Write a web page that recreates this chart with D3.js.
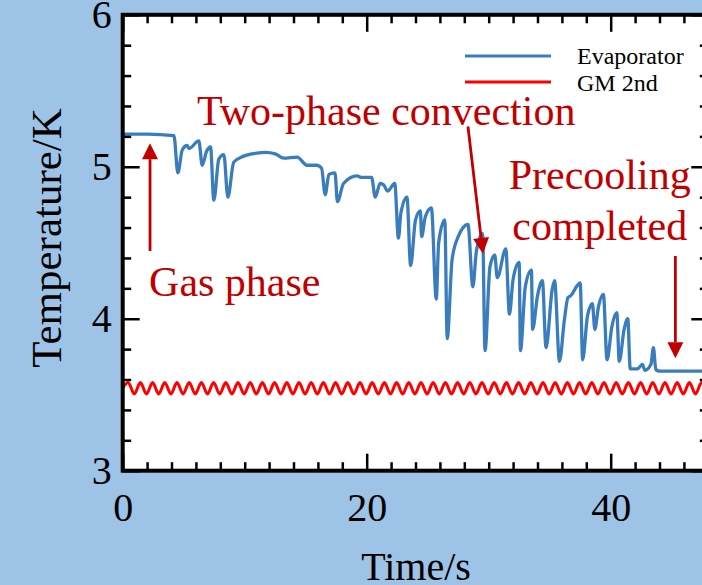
<!DOCTYPE html>
<html>
<head>
<meta charset="utf-8">
<script src="https://d3js.org/d3.v7.min.js"></script>
<style>
body { margin: 0; background: #9dc3e6; }
svg { display: block; }
text { font-family: "Liberation Serif", "Times New Roman", serif; }
</style>
</head>
<body>
<svg id="chart" width="702" height="585"></svg>
<script>
// evaporator temperature (s, K)
var evapTime = [0, 2.0, 4.2, 4.52, 4.88, 5.29, 5.43, 6.24, 6.52, 6.87, 7.2, 7.47, 7.88, 8.29, 8.62, 9.1, 9.92, 11.0,
    11.7, 12.5, 13.2, 14.3, 15.1, 15.9, 16.3, 16.6, 16.9, 17.4, 17.6, 18.1, 19.2, 19.6, 20.4, 20.7, 21.1, 21.4, 21.7,
    22.3, 22.6, 22.8, 23.3, 23.6, 24.0, 24.4, 24.5, 24.8, 25.3, 25.7, 25.9, 26.4, 26.6, 27.0, 27.5, 28.3, 28.7, 29.0,
    29.5, 29.7, 30.1, 30.5, 30.7, 31.4, 31.7, 32.0, 32.5, 32.6, 33.0, 33.5, 33.6, 34.0, 34.4, 34.7, 35.2, 35.4, 35.8,
    36.2, 36.5, 36.7, 37.5, 37.7, 38.1, 38.5, 38.7, 39.0, 39.4, 39.7, 40.1, 40.5, 40.7, 41.1, 41.4, 41.6, 42.2, 42.6,
    42.8, 43.3, 43.5, 43.7, 44.0, 48]
var evapTemp = [5.215, 5.215, 5.205, 4.96, 5.11, 5.14, 5.12, 5.17, 5.01, 5.10, 5.13, 4.78, 5.05, 5.08, 4.80, 5.03, 5.07, 5.09,
    5.095, 5.085, 5.057, 5.064, 5.01, 5.01, 4.99, 4.816, 4.95, 4.96, 4.77, 4.89, 4.94, 4.93, 4.93, 4.80, 4.89, 4.88, 4.84,
    4.89, 4.53, 4.695, 4.80, 4.35, 4.65, 4.71, 4.54, 4.67, 4.73, 4.13, 4.50, 4.65, 3.87, 4.39, 4.54, 4.62, 4.21, 4.45,
    4.56, 3.79, 4.34, 4.42, 4.27, 4.46, 4.03, 4.26, 4.37, 3.79, 4.21, 4.32, 3.93, 4.15, 4.25, 3.81, 4.19, 4.25, 3.72,
    3.99, 4.14, 4.15, 4.235, 3.73, 4.02, 4.10, 3.93, 4.08, 4.16, 3.73, 3.95, 4.04, 3.72, 3.93, 4.00, 3.67, 3.67, 3.70,
    3.66, 3.70, 3.81, 3.665, 3.655, 3.655]

// GM cooler 2nd stage (s, K), one peak and one trough per second
var gmTime = [0,
    0.45, 0.95, 1.45, 1.95, 2.45, 2.95, 3.45, 3.95, 4.45, 4.95, 5.45, 5.95,
    6.45, 6.95, 7.45, 7.95, 8.45, 8.95, 9.45, 9.95, 10.45, 10.95, 11.45, 11.95,
    12.45, 12.95, 13.45, 13.95, 14.45, 14.95, 15.45, 15.95, 16.45, 16.95, 17.45, 17.95,
    18.45, 18.95, 19.45, 19.95, 20.45, 20.95, 21.45, 21.95, 22.45, 22.95, 23.45, 23.95,
    24.45, 24.95, 25.45, 25.95, 26.45, 26.95, 27.45, 27.95, 28.45, 28.95, 29.45, 29.95,
    30.45, 30.95, 31.45, 31.95, 32.45, 32.95, 33.45, 33.95, 34.45, 34.95, 35.45, 35.95,
    36.45, 36.95, 37.45, 37.95, 38.45, 38.95, 39.45, 39.95, 40.45, 40.95, 41.45, 41.95,
    42.45, 42.95, 43.45, 43.95, 44.45, 44.95, 45.45, 45.95, 46.45, 46.95, 47.45, 47.95]
var gmTemp = [3.545,
    3.58, 3.505, 3.58, 3.505, 3.58, 3.505, 3.58, 3.505, 3.58, 3.505, 3.58, 3.505,
    3.58, 3.505, 3.58, 3.505, 3.58, 3.505, 3.58, 3.505, 3.58, 3.505, 3.58, 3.505,
    3.58, 3.505, 3.58, 3.505, 3.58, 3.505, 3.58, 3.505, 3.58, 3.505, 3.58, 3.505,
    3.58, 3.505, 3.58, 3.505, 3.58, 3.505, 3.58, 3.505, 3.58, 3.505, 3.58, 3.505,
    3.58, 3.505, 3.58, 3.505, 3.58, 3.505, 3.58, 3.505, 3.58, 3.505, 3.58, 3.505,
    3.58, 3.505, 3.58, 3.505, 3.58, 3.505, 3.58, 3.505, 3.58, 3.505, 3.58, 3.505,
    3.58, 3.505, 3.58, 3.505, 3.58, 3.505, 3.58, 3.505, 3.58, 3.505, 3.58, 3.505,
    3.58, 3.505, 3.58, 3.505, 3.58, 3.505, 3.58, 3.505, 3.58, 3.505, 3.58, 3.505]

var seriesNames = ['Evaporator', 'GM 2nd']
var xMajor = [0, 20, 40]
var xMinor = [2, 4, 6, 8, 10, 12, 14, 16, 18, 22, 24, 26, 28, 30, 32, 34, 36, 38, 42, 44, 46]
var yMajor = [3, 4, 5, 6]
var yMinor = [3.2, 3.4, 3.6, 3.8, 4.2, 4.4, 4.6, 4.8, 5.2, 5.4, 5.6, 5.8]

var blue = '#3a7dbd', red = '#ff0000', darkRed = '#c00000'

var svg = d3.select('#chart')
var plotL = 122.7, plotR = 708.3, plotT = 14.8, plotB = 470.7

var x = d3.scaleLinear().domain([0, 48]).range([plotL, plotR])
var y = d3.scaleLinear().domain([3, 6]).range([plotB, plotT])

svg.append('defs').append('clipPath').attr('id', 'clip')
    .append('rect')
    .attr('x', plotL).attr('y', plotT)
    .attr('width', plotR - plotL).attr('height', plotB - plotT)

svg.append('rect')
    .attr('x', plotL).attr('y', plotT)
    .attr('width', plotR - plotL).attr('height', plotB - plotT)
    .attr('fill', 'white')

var line = d3.line().x(d => x(d[0])).y(d => y(d[1])).curve(d3.curveMonotoneX)

svg.append('path')
    .datum(gmTime.map((t, i) => [t, gmTemp[i]]))
    .attr('clip-path', 'url(#clip)')
    .attr('d', line)
    .attr('fill', 'none')
    .attr('stroke', red)
    .attr('stroke-width', 3)

svg.append('path')
    .datum(evapTime.map((t, i) => [t, evapTemp[i]]))
    .attr('clip-path', 'url(#clip)')
    .attr('d', line)
    .attr('fill', 'none')
    .attr('stroke', blue)
    .attr('stroke-width', 3.3)
    .attr('stroke-linejoin', 'round')

// ticks point inward on all four sides
function ticks(axis, pos, values, size, labels) {
    var g = svg.append('g').attr('transform', pos)
        .call(axis.tickValues(values).tickSize(-size).tickPadding(labels ? labels.pad : 0)
            .tickFormat(labels ? d3.format('d') : ''))
    g.select('.domain').remove()
    g.selectAll('line').attr('stroke', 'black').attr('stroke-width', 2.5)
    g.selectAll('text').attr('font-size', 40).attr('fill', 'black')
        .style('font-family', '"Liberation Serif", "Times New Roman", serif')
    return g
}
ticks(d3.axisBottom(x), `translate(0,${plotB})`, xMajor, 17, { pad: 22 })
ticks(d3.axisBottom(x), `translate(0,${plotB})`, xMinor, 8.5)
ticks(d3.axisTop(x), `translate(0,${plotT})`, xMajor, 17)
ticks(d3.axisTop(x), `translate(0,${plotT})`, xMinor, 8.5)
ticks(d3.axisLeft(y), `translate(${plotL},0)`, yMajor, 17, { pad: 11 })
ticks(d3.axisLeft(y), `translate(${plotL},0)`, yMinor, 8.5)
ticks(d3.axisRight(y), `translate(${plotR},0)`, yMajor, 17)
ticks(d3.axisRight(y), `translate(${plotR},0)`, yMinor, 8.5)

svg.append('rect')
    .attr('x', plotL).attr('y', plotT)
    .attr('width', plotR - plotL).attr('height', plotB - plotT)
    .attr('fill', 'none')
    .attr('stroke', 'black')
    .attr('stroke-width', 4)

svg.append('text')
    .attr('x', 416).attr('y', 580)
    .attr('text-anchor', 'middle')
    .attr('font-size', 40)
    .text('Time/s')

svg.append('text')
    .attr('transform', 'translate(61,238) rotate(-90)')
    .attr('text-anchor', 'middle')
    .attr('font-size', 43)
    .text('Temperature/K')

// legend
var legend = svg.append('g')
seriesNames.forEach(function (name, i) {
    legend.append('line')
        .attr('x1', 465).attr('x2', 551)
        .attr('y1', 56 + i * 26).attr('y2', 56 + i * 26)
        .attr('stroke', i == 0 ? blue : red)
        .attr('stroke-width', 3)
    legend.append('text')
        .attr('x', 577).attr('y', 64 + i * 27)
        .attr('font-size', 24)
        .text(name)
})

// annotations, in data units
var notes = [
    { text: 'Two-phase convection', t: 6.09, T: 5.276, anchor: 'start' },
    { text: 'Gas phase', t: 2.16, T: 4.15, anchor: 'start' },
    { text: 'Precooling', t: 39.1, T: 4.853, anchor: 'middle' },
    { text: 'completed', t: 39.1, T: 4.517, anchor: 'middle' }
]
var arrows = [
    [2.24, 4.446, 2.24, 5.155],
    [28.3, 5.265, 29.53, 4.427],
    [45.3, 4.413, 45.3, 3.74]
]

notes.forEach(function (n) {
    svg.append('text')
        .attr('x', x(n.t)).attr('y', y(n.T))
        .attr('text-anchor', n.anchor)
        .attr('font-size', 42)
        .attr('fill', darkRed)
        .text(n.text)
})

arrows.forEach(function (a) {
    var x1 = x(a[0]), y1 = y(a[1]), x2 = x(a[2]), y2 = y(a[3])
    var ang = Math.atan2(y2 - y1, x2 - x1)
    var len = 16, half = 8
    var bx = x2 - len * Math.cos(ang), by = y2 - len * Math.sin(ang)
    svg.append('line')
        .attr('x1', x1).attr('y1', y1).attr('x2', bx).attr('y2', by)
        .attr('stroke', darkRed).attr('stroke-width', 2.8)
    svg.append('path')
        .attr('d', `M${x2},${y2}L${bx + half * Math.sin(ang)},${by - half * Math.cos(ang)}L${bx - half * Math.sin(ang)},${by + half * Math.cos(ang)}Z`)
        .attr('fill', darkRed)
})
</script>
</body>
</html>
